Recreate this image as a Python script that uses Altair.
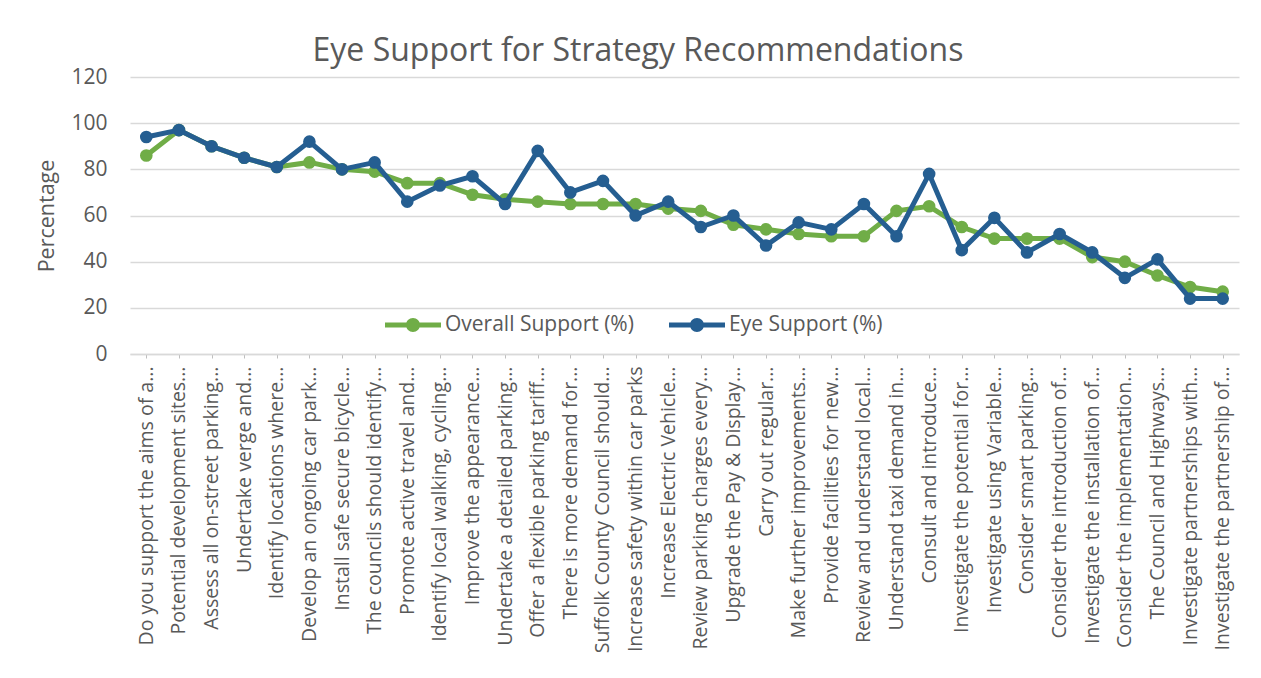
import altair as alt
import pandas as pd

categories = [
    "Do you support the aims of a...",
    "Potential development sites...",
    "Assess all on-street parking...",
    "Undertake verge and...",
    "Identify locations where...",
    "Develop an ongoing car park...",
    "Install safe secure bicycle...",
    "The councils should identify...",
    "Promote active travel and...",
    "Identify local walking, cycling...",
    "Improve the appearance...",
    "Undertake a detailed parking...",
    "Offer a flexible parking tariff...",
    "There is more demand for...",
    "Suffolk County Council should...",
    "Increase safety within car parks",
    "Increase Electric Vehicle...",
    "Review parking charges every...",
    "Upgrade the Pay & Display...",
    "Carry out regular...",
    "Make further improvements...",
    "Provide facilities for new...",
    "Review and understand local...",
    "Understand taxi demand in...",
    "Consult and introduce...",
    "Investigate the potential for...",
    "Investigate using Variable...",
    "Consider smart parking...",
    "Consider the introduction of...",
    "Investigate the installation of...",
    "Consider the implementation...",
    "The Council and Highways...",
    "Investigate partnerships with...",
    "Investigate the partnership of...",
]

overall_support = [86, 97, 90, 85, 81, 83, 80, 79, 74, 74, 69, 67, 66, 65, 65, 65, 63,
                   62, 56, 54, 52, 51, 51, 62, 64, 55, 50, 50, 50, 42, 40, 34, 29, 27]
eye_support = [94, 97, 90, 85, 81, 92, 80, 83, 66, 73, 77, 65, 88, 70, 75, 60, 66,
               55, 60, 47, 57, 54, 65, 51, 78, 45, 59, 44, 52, 44, 33, 41, 24, 24]

series_names = ["Overall Support (%)", "Eye Support (%)"]
series_colors = ["#70AD47", "#255E91"]
y_ticks = [0, 20, 40, 60, 80, 100, 120]

rows = []
for i, c in enumerate(categories):
    rows.append({"Recommendation": c, "Series": series_names[0], "Value": overall_support[i]})
    rows.append({"Recommendation": c, "Series": series_names[1], "Value": eye_support[i]})
df = pd.DataFrame(rows)

FONT = "Open Sans"
TXT = "#595959"
GRID = "#d9d9d9"

legend_symbol = ("M-2,-0.17L2,-0.17L2,0.17L-2,0.17Z "
                 "M0.5,0A0.5,0.5,0,1,1,-0.5,0A0.5,0.5,0,1,1,0.5,0Z")

x_enc = alt.X(
    "Recommendation:N",
    sort=categories,
    title=None,
    axis=alt.Axis(
        labelAngle=270,
        labelFont=FONT,
        labelFontSize=19.5,
        labelColor=TXT,
        labelLimit=500,
        labelPadding=8,
        labelOverlap=False,
        grid=False,
        domainColor=GRID,
        domainWidth=1.5,
        ticks=True,
        tickSize=4,
        tickColor="#bfbfbf",
        tickWidth=1,
    ),
)
y_enc = alt.Y(
    "Value:Q",
    title="Percentage",
    scale=alt.Scale(domain=[0, 120], nice=False),
    axis=alt.Axis(
        values=y_ticks,
        labelFont=FONT,
        labelFontSize=21,
        labelColor=TXT,
        labelPadding=23,
        domain=False,
        ticks=False,
        grid=True,
        gridColor=GRID,
        gridWidth=1.5,
        titleFont=FONT,
        titleFontSize=21.5,
        titleFontWeight="normal",
        titleColor=TXT,
        titlePadding=12,
    ),
)
color_enc = alt.Color(
    "Series:N",
    scale=alt.Scale(domain=series_names, range=series_colors),
    legend=alt.Legend(
        title=None,
        orient="none",
        direction="horizontal",
        legendX=269,
        legendY=234,
        padding=0,
        symbolType=legend_symbol,
        symbolSize=784,
        symbolStrokeWidth=0,
        symbolOpacity=1,
        labelOffset=18,
        labelLimit=400,
        columnPadding=35,
        labelFont=FONT,
        labelFontSize=21,
        labelColor=TXT,
    ),
)

base = alt.Chart(df).encode(x=x_enc, y=y_enc, color=color_enc)

layers = []
for s in series_names:
    sub = base.transform_filter(alt.datum.Series == s)
    layers.append(sub.mark_line(strokeWidth=5))
    layers.append(sub.mark_circle(size=160, opacity=1))

chart = alt.layer(*layers).properties(
    width=1109,
    height=277,
    title=alt.TitleParams(
        "Eye Support for Strategy Recommendations",
        font=FONT,
        fontSize=32,
        fontWeight="normal",
        color=TXT,
        anchor="middle",
        frame="bounds",
        offset=-2,
    ),
    autosize=alt.AutoSizeParams(type="none"),
    padding={"left": 122, "top": 69, "right": 14, "bottom": 316},
).configure_view(stroke=None)

chart.save("out.html", embed_options={"renderer": "svg", "actions": False})
